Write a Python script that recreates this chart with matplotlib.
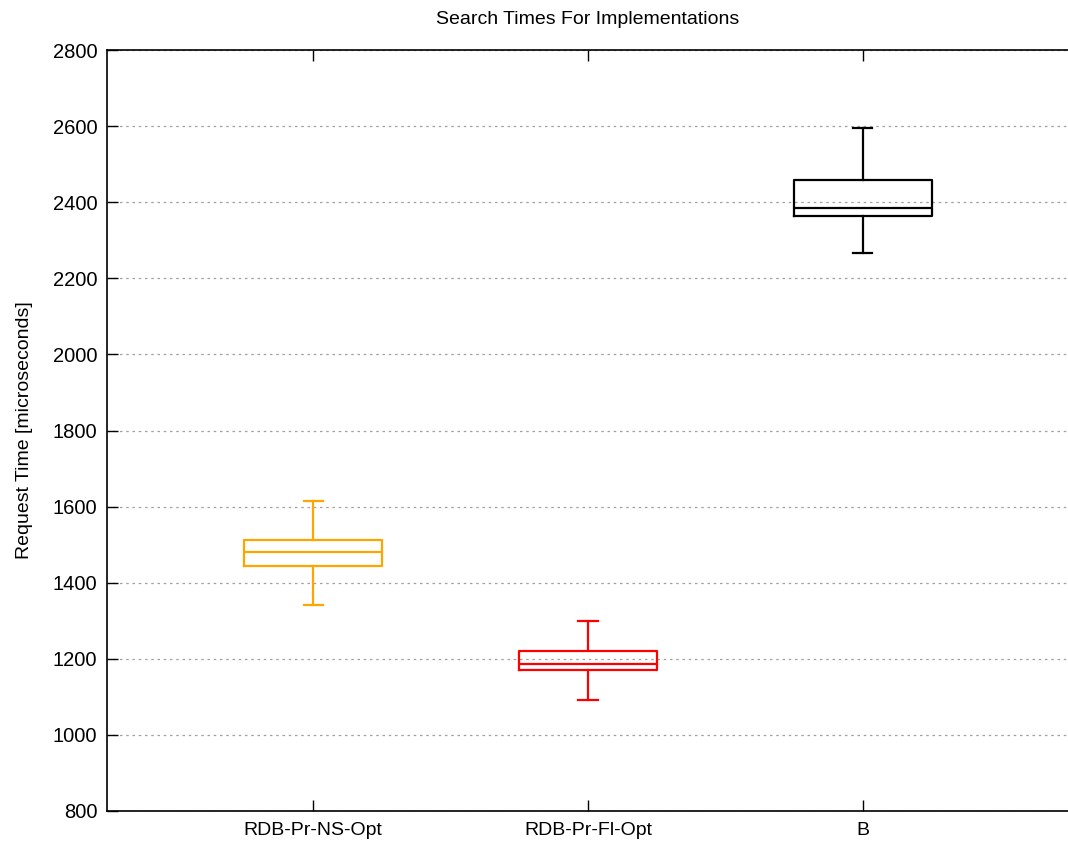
import matplotlib
matplotlib.use('Agg')
import matplotlib.pyplot as plt

plt.rcParams['font.family'] = ['Liberation Sans', 'DejaVu Sans']

# Données
labels = ['RDB-Pr-NS-Opt', 'RDB-Pr-Fl-Opt', 'B']
colors = ['#FFA500', '#FF0000', '#000000']
whislo = [1342, 1093, 2266]
q1 = [1445, 1170, 2365]
med = [1481, 1186, 2385]
q3 = [1512, 1220, 2458]
whishi = [1615, 1300, 2596]

stats = [dict(label=l, whislo=a, q1=b, med=c, q3=d, whishi=e)
         for l, a, b, c, d, e in zip(labels, whislo, q1, med, q3, whishi)]

W, H = 1068, 843
fig = plt.figure(figsize=(W / 100, H / 100), dpi=100)
ax = fig.add_axes([107 / W, 1 - 811 / H, (1069 - 107) / W, (811 - 50) / H])

for i, (s, c) in enumerate(zip(stats, colors)):
    lp = dict(color=c, linewidth=1.6)
    ax.bxp([s], positions=[i + 1], widths=0.5, capwidths=0.07, showfliers=False,
           boxprops=lp, medianprops=lp, whiskerprops=lp, capprops=lp)

ax.set_xlim(0.25, 3.75)
ax.set_ylim(800, 2800)
ax.set_yticks(range(800, 2801, 200))
ax.set_xticks([1, 2, 3])
ax.set_xticklabels(labels)
ax.yaxis.grid(True, linestyle=(0, (2, 3)), color='#a0a0a0', linewidth=0.9)
ax.set_axisbelow(True)

ax.spines['right'].set_visible(False)
for sp in ['left', 'top', 'bottom']:
    ax.spines[sp].set_linewidth(1.2)
ax.tick_params(axis='both', direction='in', length=8, width=1.0,
               labelsize=14.5, colors='black')
ax.tick_params(axis='x', top=True, pad=8, labelsize=14)
ax.tick_params(axis='y', right=False, pad=7)

ax.set_ylabel('Request Time [microseconds]', fontsize=14, labelpad=14)
fig.text(588 / W, 1 - 19 / H, 'Search Times For Implementations',
         ha='center', va='center', fontsize=14)

fig.savefig('out.png', dpi=100)
